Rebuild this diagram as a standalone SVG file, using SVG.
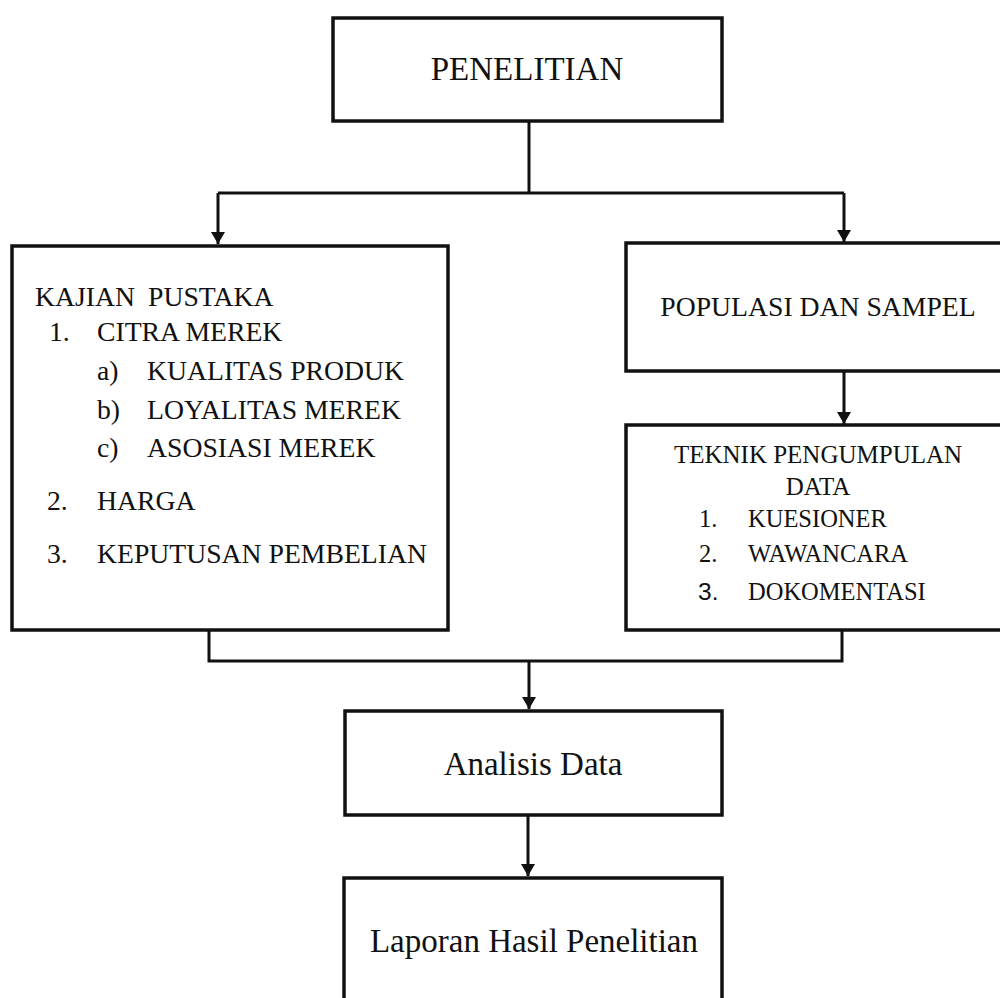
<svg xmlns="http://www.w3.org/2000/svg" width="1000" height="998" viewBox="0 0 1000 998">
<defs>
<style>
.box{fill:#fff;stroke:#111;stroke-width:3.5}
.ln{fill:none;stroke:#111;stroke-width:3}
text{font-family:"Liberation Serif","Times New Roman",serif;fill:#111}
.big{font-size:33px}
.mid{font-size:27.7px}
.sm{font-size:24.5px}
.hd{font-size:25px}
.c{text-anchor:middle}
</style>
<marker id="ah" viewBox="0 0 12 14" refX="12" refY="7" markerWidth="12" markerHeight="14" markerUnits="userSpaceOnUse" orient="auto">
<path d="M0,0 L12,7 L0,14 Z" fill="#111"/>
</marker>
</defs>
<rect width="1000" height="998" fill="#fff"/>
<g id="connectors">
<path class="ln" d="M529,121 V193"/>
<path class="ln" d="M218,193 H844"/>
<path class="ln" d="M218,193 V244" marker-end="url(#ah)"/>
<path class="ln" d="M844,193 V242" marker-end="url(#ah)"/>
<path class="ln" d="M844,371 V424" marker-end="url(#ah)"/>
<path class="ln" d="M209,630 V661 H842 V630"/>
<path class="ln" d="M529,661 V709" marker-end="url(#ah)"/>
<path class="ln" d="M528,815 V876" marker-end="url(#ah)"/>
</g>
<g id="penelitian">
<rect class="box" x="333" y="18" width="389" height="103"/>
<text class="big c" x="527" y="80">PENELITIAN</text>
</g>
<g id="kajian">
<rect class="box" x="12" y="246" width="436" height="384"/>
<text class="mid" x="35" y="306">KAJIAN</text>
<text class="mid" x="148" y="306">PUSTAKA</text>
<text class="mid" x="49" y="341">1.</text>
<text class="mid" x="97" y="341">CITRA MEREK</text>
<text class="mid" x="97" y="380">a)</text>
<text class="mid" x="147" y="380">KUALITAS PRODUK</text>
<text class="mid" x="97" y="419">b)</text>
<text class="mid" x="147" y="419">LOYALITAS MEREK</text>
<text class="mid" x="97" y="457">c)</text>
<text class="mid" x="147" y="457">ASOSIASI MEREK</text>
<text class="mid" x="47" y="510">2.</text>
<text class="mid" x="97" y="510">HARGA</text>
<text class="mid" x="47" y="563">3.</text>
<text class="mid" x="97" y="563">KEPUTUSAN PEMBELIAN</text>
</g>
<g id="populasi">
<rect class="box" x="626" y="243" width="390" height="128"/>
<text class="mid c" x="818" y="316">POPULASI DAN SAMPEL</text>
</g>
<g id="teknik">
<rect class="box" x="626" y="425" width="390" height="205"/>
<text class="hd c" x="818" y="463">TEKNIK PENGUMPULAN</text>
<text class="hd c" x="818" y="495">DATA</text>
<text class="sm" x="699" y="527">1.</text>
<text class="sm" x="748" y="527">KUESIONER</text>
<text class="sm" x="699" y="562">2.</text>
<text class="sm" x="748" y="562">WAWANCARA</text>
<text class="sm" x="698" y="600" style="font-family:'Liberation Sans',Arial,sans-serif">3.</text>
<text class="sm" x="748" y="600">DOKOMENTASI</text>
</g>
<g id="analisis">
<rect class="box" x="345" y="711" width="377" height="104"/>
<text class="big c" x="533" y="775">Analisis Data</text>
</g>
<g id="laporan">
<rect class="box" x="344" y="878" width="378" height="140"/>
<text class="big c" x="534" y="952">Laporan Hasil Penelitian</text>
</g>
</svg>
